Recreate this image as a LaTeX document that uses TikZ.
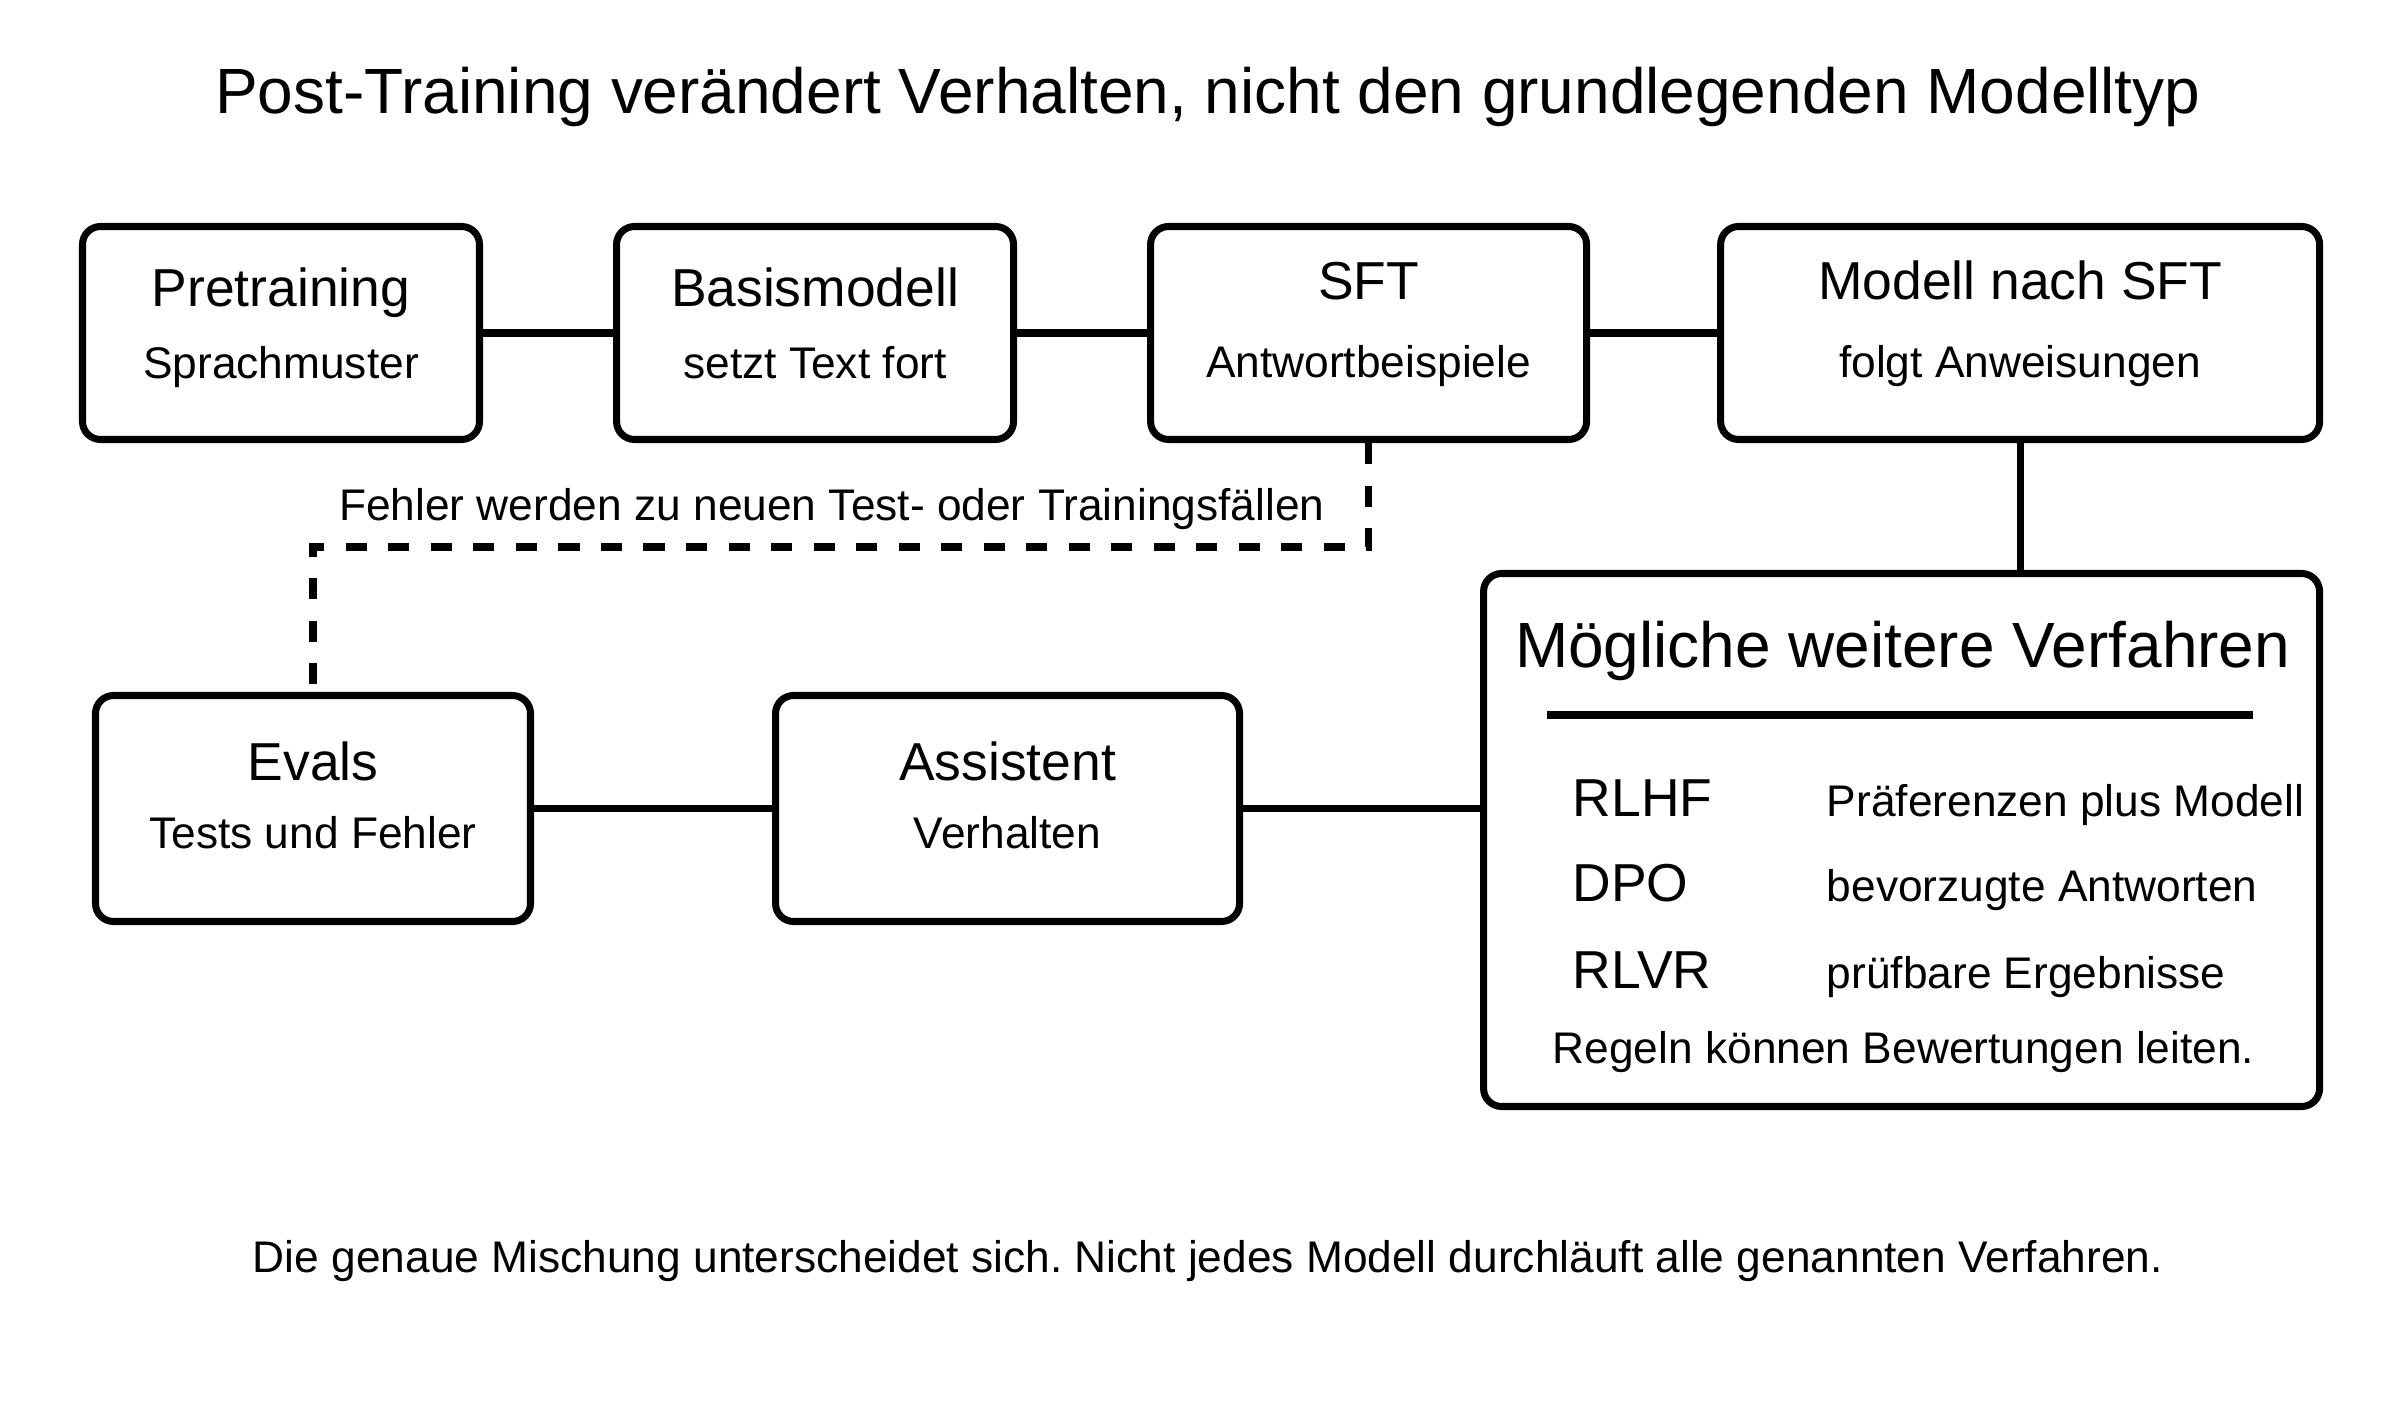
\documentclass[tikz,border=0pt]{standalone}
\usepackage{fontspec}
\setmainfont{Liberation Sans}
\frenchspacing
\usetikzlibrary{calc, positioning}
\tikzset
{%
stufe/.style={draw, rounded corners=0.18cm, line width=2pt, minimum height=2.13cm, inner sep=0pt},
unten/.style={stufe, minimum height=2.26cm},
gross/.style={anchor=base, inner sep=0pt, font=\fontsize{18.2}{22}\selectfont},
titel/.style={anchor=base, inner sep=0pt, font=\fontsize{15.2}{18}\selectfont},
unter/.style={anchor=base, inner sep=0pt, font=\fontsize{12.6}{15}\selectfont},
verb/.style={line width=2pt},
rueck/.style={line width=2pt, dash pattern=on 6pt off 6.1pt}
}
\begin{document}
\begin{tikzpicture}
	\useasboundingbox (0,0) rectangle (24,14);
	\node[gross] (kopf) at (12.08, 12.86) {Post-Training verändert Verhalten, nicht den grundlegenden Modelltyp};
	
	%Obere Reihe
	\node[stufe, minimum width=3.97cm] (pre) at (2.81, 10.67) {};
	\node[stufe, minimum width=3.97cm, right=1.30cm of pre] (basis) {};
	\node[stufe, minimum width=4.36cm, right=1.30cm of basis] (sft) {};
	\node[stufe, minimum width=5.99cm, right=1.27cm of sft] (msft) {};
	\node[titel] (pre-t) at ($(pre) + (0, 0.26)$) {Pretraining};
	\node[unter] (pre-u) at ($(pre) + (0, -0.46)$) {Sprachmuster};
	\node[titel] (basis-t) at ($(basis) + (0, 0.26)$) {Basismodell};
	\node[unter] (basis-u) at ($(basis) + (0, -0.46)$) {setzt Text fort};
	\node[titel] (sft-t) at ($(sft) + (0, 0.33)$) {SFT};
	\node[unter] (sft-u) at ($(sft) + (0, -0.45)$) {Antwortbeispiele};
	\node[titel] (msft-t) at ($(msft) + (0, 0.33)$) {Modell nach SFT};
	\node[unter] (msft-u) at ($(msft) + (0, -0.45)$) {folgt Anweisungen};
	
	%Untere Reihe
	\node[unten, minimum width=4.35cm] (evals) at (3.13, 5.915) {};
	\node[unten, minimum width=4.64cm, right=2.38cm of evals] (assi) {};
	\node[stufe, minimum width=8.36cm, minimum height=5.33cm, right=2.37cm of assi, yshift=-3.15mm] (verf) {};
	\node[titel] (evals-t) at ($(evals) + (0, 0.275)$) {Evals};
	\node[unter] (evals-u) at ($(evals) + (0, -0.405)$) {Tests und Fehler};
	\node[titel] (assi-t) at ($(assi) + (0, 0.275)$) {Assistent};
	\node[unter] (assi-u) at ($(assi) + (0, -0.405)$) {Verhalten};
	
	%Verfahren
	\node[gross] (verf-t) at ($(verf) + (0.01, 1.72)$) {Mögliche weitere Verfahren};
	\draw[verb] ($(verf) + (-3.545, 1.25)$) -- ($(verf) + (3.515, 1.25)$);
	\node[titel, anchor=base west] (rlhf) at ($(verf) + (-3.295, 0.235)$) {RLHF};
	\node[titel, anchor=base west] (dpo) at ($(verf) + (-3.295, -0.62)$) {DPO};
	\node[titel, anchor=base west] (rlvr) at ($(verf) + (-3.295, -1.485)$) {RLVR};
	\node[unter, anchor=base west] (rlhf-u) at ($(verf) + (-0.755, 0.235)$) {Präferenzen plus Modell};
	\node[unter, anchor=base west] (dpo-u) at ($(verf) + (-0.755, -0.62)$) {bevorzugte Antworten};
	\node[unter, anchor=base west] (rlvr-u) at ($(verf) + (-0.755, -1.485)$) {prüfbare Ergebnisse};
	\node[unter] (regeln) at ($(verf) + (0.02, -2.23)$) {Regeln können Bewertungen leiten.};
	
	\node[unter] (fuss) at (12.08, 1.28) {Die genaue Mischung unterscheidet sich. Nicht jedes Modell durchläuft alle genannten Verfahren.};
	
	\path[verb] (pre) edge (basis) (basis) edge (sft) (sft) edge (msft)
	(evals) edge (assi);
	\draw[verb] (msft.south) -- (msft.south |- verf.north);
	\draw[verb] (assi.east) -- (assi.east -| verf.west);
	\coordinate (knick) at ($(sft.south) + (0, -1.04)$);
	\draw[rueck] (sft.south) -- (knick) -| node[unter, pos=0.25, yshift=2.67mm, xshift=-0.9mm] (fehler) {Fehler werden zu neuen Test- oder Trainingsfällen} (evals.north);
\end{tikzpicture}
\end{document}
